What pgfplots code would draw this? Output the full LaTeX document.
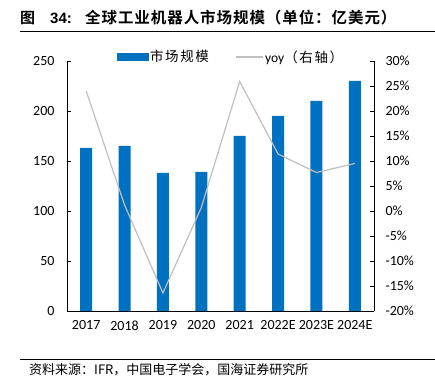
\documentclass[border=0pt]{standalone}
\usepackage{pgfplots}
\pgfplotsset{compat=1.18}
\usepackage{fontspec}
\setmainfont{Carlito}
\newfontfamily\cjk{Noto Sans CJK SC}
\newfontfamily\cjkl[LetterSpace=12]{Noto Sans CJK SC}
\newfontfamily\cjkb[LetterSpace=6]{Noto Sans CJK SC Bold}
\newfontfamily\latb{Liberation Sans Bold}
\definecolor{barblue}{HTML}{0070C0}
\definecolor{linegray}{HTML}{BFBFBF}
\begin{document}
\begin{tikzpicture}
\path[use as bounding box] (0,0) rectangle (435bp,384bp);
\node[anchor=west, inner sep=0pt, font=\fontsize{15bp}{17bp}\selectfont] at (20bp,366bp) {\cjkb 图};
\node[anchor=west, inner sep=0pt, font=\fontsize{15bp}{17bp}\selectfont] at (50bp,366bp) {\latb 34:};
\node[anchor=west, inner sep=0pt, font=\fontsize{15.5bp}{17bp}\selectfont] at (85bp,366bp) {\cjkb 全球工业机器人市场规模（单位：亿美元）};
\draw[line width=0.8pt] (20bp,353bp) -- (435bp,353bp);
\draw[line width=0.8pt] (20bp,25bp) -- (435bp,25bp);
\node[anchor=west, inner sep=0pt, font=\fontsize{13bp}{15bp}\selectfont] at (29bp,14bp) {\cjk 资料来源：IFR，中国电子学会，国海证券研究所};
\begin{axis}[
  at={(67bp,73bp)}, anchor=south west,
  width=307bp, height=250bp, scale only axis,
  xmin=-0.5, xmax=7.5, ymin=0, ymax=250,
  ytick={0,50,...,250},
  xtick={0,...,7},
  xticklabels={2017,2018,2019,2020,2021,2022E,2023E,2024E},
  axis x line*=bottom, axis y line*=left,
  x axis line style={-, line width=0.8pt},
  y axis line style={-, line width=0.6pt},
  tick style={black, line width=0.6pt},
  major tick length=4bp,
  xtick style={draw=none},
  tick align=inside,
  ticklabel style={font=\fontsize{14bp}{16bp}\selectfont},
  /pgf/number format/assume math mode=true,
  yticklabel style={xshift=-9bp},
  xticklabel style={yshift=-6bp},
  clip=false,
]
\addplot[ybar, bar width=12bp, fill=barblue, draw=none] coordinates {
(0,163) (1,165) (2,138) (3,139) (4,175) (5,195) (6,210) (7,230)};
\end{axis}
\begin{axis}[
  at={(67bp,73bp)}, anchor=south west,
  width=307bp, height=250bp, scale only axis,
  xmin=-0.5, xmax=7.5, ymin=-20, ymax=30,
  ytick={-20,-15,...,30},
  yticklabel={\pgfmathprintnumber{\tick}\%},
  axis y line*=right, axis x line=none,
  y axis line style={-, line width=0.6pt},
  tick style={black, line width=0.6pt},
  major tick length=4bp,
  tick align=inside,
  ticklabel style={font=\fontsize{14bp}{16bp}\selectfont},
  /pgf/number format/assume math mode=true,
  yticklabel style={xshift=8bp},
  legend style={at={(0.534,1.016)}, anchor=center, draw=none, fill=none,
    legend columns=2, font=\fontsize{13.5bp}{15bp}\selectfont,
    /tikz/every even column/.append style={column sep=24bp}},
  clip=false,
]
\addlegendimage{legend image code/.code={\fill[barblue] (0bp,-3.5bp) rectangle (31bp,3.5bp);}}
\addlegendentry{\cjkl 市场规模}
\addplot[linegray, line width=1.2pt, mark=none,
  legend image code/.code={\draw[linegray, line width=1.2pt] (0bp,0bp) -- (27bp,0bp);}]
  coordinates {(0,24.0) (1,1.2) (2,-16.4) (3,0.7) (4,25.9) (5,11.4) (6,7.7) (7,9.5)};
\addlegendentry{yoy\cjkl（右轴）}
\end{axis}
\end{tikzpicture}
\end{document}
